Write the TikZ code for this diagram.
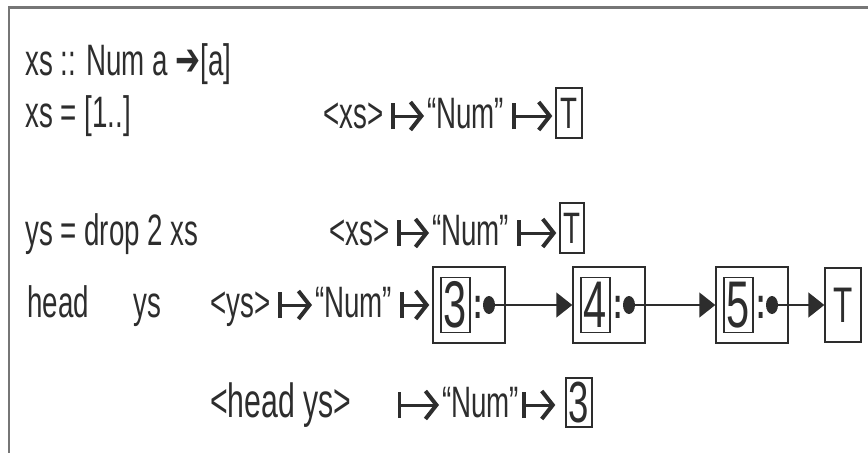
\documentclass[tikz,border=0pt]{standalone}
\usepackage{fontspec}
\usepackage{xcolor}
\usepackage{tikz}
\usetikzlibrary{positioning, arrows.meta, shapes.geometric}
\newfontfamily\codefont[FakeStretch=0.63]{Liberation Sans}
\newfontfamily\arrowfont[FakeStretch=0.65]{DejaVu Sans}
\definecolor{ink}{RGB}{45,45,45}
\definecolor{framegray}{RGB}{118,118,118}
\newcommand{\codesize}{\fontsize{44}{52}\selectfont}
\newcommand{\bigsize}{\fontsize{48}{56}\selectfont}
\newcommand{\boxsize}{\fontsize{44}{52}\selectfont}
\newcommand{\cellsize}{\fontsize{66}{72}\selectfont}
\newcommand{\tyarrow}{{\arrowfont\fontsize{46}{46}\selectfont ➔}}
\tikzset{
  word/.style={anchor=base west, inner sep=0pt, text height=32pt, text depth=8pt,
    font=\codefont\codesize},
  tbox/.style={draw, line width=1.4pt, inner sep=0pt, minimum width=26pt,
    minimum height=50pt, font=\codefont\boxsize},
  cellbox/.style={draw, line width=1.5pt, minimum width=72pt, minimum height=76pt},
  valbox/.style={draw, line width=1.4pt, inner sep=0pt, minimum width=29pt,
    minimum height=55pt, font=\codefont\cellsize},
  ptrdot/.style={ellipse, fill, inner sep=0pt, minimum width=12pt, minimum height=18pt},
  mapsto/.style={line width=3pt, shorten <=8pt, shorten >=3pt,
    {Bar[width=26pt, line width=3.2pt]}-{Straight Barb[length=11pt, width=28pt, line width=4pt]}},
  link/.style={line width=1.6pt, -{Triangle[length=16pt, width=25pt]}},
}

\begin{document}
\begin{tikzpicture}[x=1pt, y=-1pt, color=ink]
  \useasboundingbox (0,0) rectangle (868,453);
  \draw[framegray, line width=3pt] (868,7) -- (9,7);
  \draw[framegray, line width=2pt] (9,6) -- (9,453);

  % the program
  \node[word] (sig) at (25,75) {xs :: Num a \tyarrow[a]};
  \node[word] (defxs) at (25,127) {xs = [1..]};
  \node[word] (defys) at (25,245) {ys = drop 2 xs};
  \node[word] (head) at (27,317) {head};
  \node[word] (arg) at (133,317) {ys};

  % xs after its definition
  \node[word] (xsA) at (323,128) {<xs>};
  \node[word] (numA) at (427,128) {“Num”};
  \node[tbox] (tA) at (569,113) {T};
  \draw[mapsto] (xsA.east) -- (xsA.east -| numA.west);
  \draw[mapsto] (numA.east) -- (numA.east -| tA.west);

  % xs after ys is bound
  \node[word] (xsB) at (329,245) {<xs>};
  \node[word] (numB) at (432,245) {“Num”};
  \node[tbox, minimum width=24pt] (tB) at (572,228) {T};
  \draw[mapsto] (xsB.east) -- (xsB.east -| numB.west);
  \draw[mapsto] (numB.east) -- (numB.east -| tB.west);

  % ys forced to three cells
  \node[word] (ysC) at (210,317) {<ys>};
  \node[word] (numC) at (315,317) {“Num”};
  \foreach \v/\x [count=\i] in {3/469, 4/609, 5/752} {
    \node[cellbox] (cell\i) at (\x,305) {};
    \node[valbox] (val\i) at ({\x-13.5},305) {\v};
    \node[word, anchor=center, font=\codefont\bfseries\codesize] (colon\i) at ({\x+9},306) {:};
    \node[ptrdot] (dot\i) at ({\x+20},305) {};
  }
  \node[tbox, minimum width=36pt, minimum height=74pt, font=\codefont\fontsize{50}{56}\selectfont] (tail) at (843,305) {T};
  \draw[mapsto] (ysC.east) -- (ysC.east -| numC.west);
  \draw[mapsto] (numC.east) -- (numC.east -| cell1.west);
  \draw[link] (dot1.center) -- (cell2.west);
  \draw[link] (dot2.center) -- (cell3.west);
  \draw[link] (dot3.center) -- (tail.west);

  % head ys evaluated
  \node[word, font=\codefont\bigsize] (hd) at (210,417) {<head ys>};
  \node[word] (numD) at (442,417) {“Num”};
  \node[tbox, minimum height=49pt, font=\codefont\fontsize{58}{64}\selectfont] (res) at (579,402.5) {3};
  \draw[mapsto, shorten <=46pt] (hd.east) -- (hd.east -| numD.west);
  \draw[mapsto, shorten <=3pt, shorten >=10pt] (numD.east) -- (numD.east -| res.west);
\end{tikzpicture}
\end{document}
